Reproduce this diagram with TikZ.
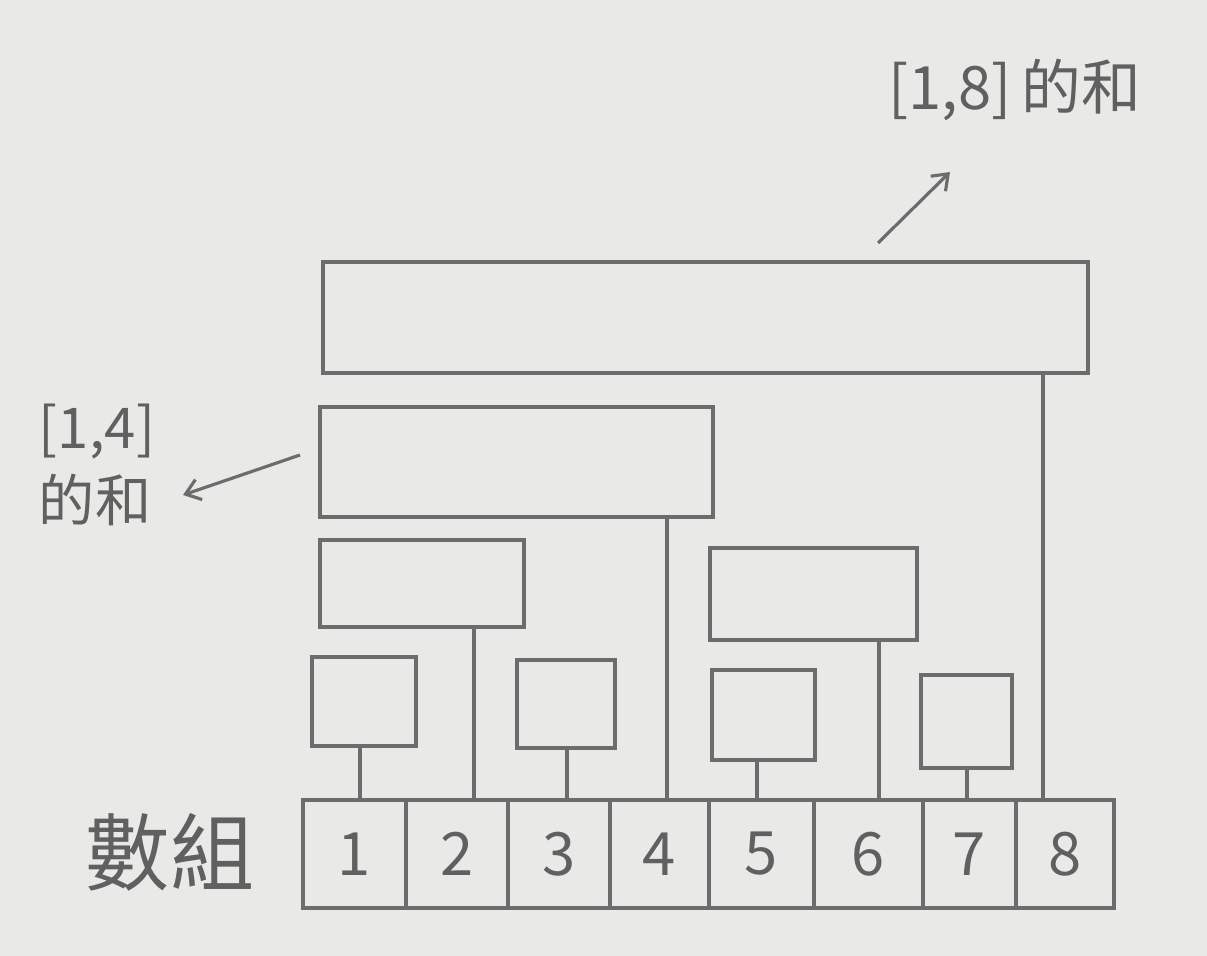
\documentclass[tikz,border=0pt]{standalone}
\usepackage{fontspec}
\newfontfamily\cjk{Noto Sans CJK TC}
\usetikzlibrary{fit,arrows.meta,backgrounds}
\definecolor{paper}{RGB}{233, 233, 231}
\definecolor{pencil}{RGB}{108, 108, 108}
\definecolor{lead}{RGB}{96, 96, 96}

\begin{document}
\begin{tikzpicture}[
        x=0.02cm, y=-0.02cm,
        treebox/.style={draw=pencil, line width=2pt, inner sep=0pt},
        cell/.style={draw=pencil, line width=2pt, inner sep=0pt, minimum height=2.16cm,
            text=lead, font=\cjk\fontsize{34}{40}\selectfont},
        stem/.style={draw=pencil, line width=2pt},
        pointer/.style={draw=pencil, line width=1.8pt, -{Straight Barb[length=8pt,width=12pt]}},
        label/.style={text=lead, font=\cjk\fontsize{#1}{#1}\selectfont},
        label/.default=32
    ]
    \useasboundingbox (0,0) rectangle (1207,956);
    \fill[paper] (0,0) rectangle (1207,956);

    % array cells
    \node[cell, minimum width=2.06cm] (c1) at (354.5,854) {1};
    \node[cell, minimum width=2.04cm] (c2) at (457,854) {2};
    \node[cell, minimum width=2.04cm] (c3) at (559,854) {3};
    \node[cell, minimum width=1.98cm] (c4) at (659.5,854) {4};
    \node[cell, minimum width=2.10cm] (c5) at (761.5,854) {5};
    \node[cell, minimum width=2.18cm] (c6) at (868.5,854) {6};
    \node[cell, minimum width=1.86cm] (c7) at (969.5,854) {7};
    \node[cell, minimum width=1.96cm] (c8) at (1065,854) {8};
    \node[label=48] (arr) at (170,852) {數組};

    % tree boxes
    \node[treebox, fit={(312,657) (416,746)}] (t1) {};
    \node[treebox, fit={(320,540) (524,627)}] (t2) {};
    \node[treebox, fit={(517,660) (615,748)}] (t3) {};
    \node[treebox, fit={(320,407) (713,517)}] (t4) {};
    \node[treebox, fit={(712,670) (815,760)}] (t5) {};
    \node[treebox, fit={(710,548) (917,640)}] (t6) {};
    \node[treebox, fit={(921,675) (1012,768)}] (t7) {};
    \node[treebox, fit={(323,262) (1088,373)}] (t8) {};

    % stem feet on the array
    \coordinate (f1) at (360,800);
    \coordinate (f2) at (474,800);
    \coordinate (f3) at (567,800);
    \coordinate (f4) at (667,800);
    \coordinate (f5) at (757,800);
    \coordinate (f6) at (879,800);
    \coordinate (f7) at (967,800);
    \coordinate (f8) at (1043,800);
    \foreach \i in {1,...,8}
        \draw[stem] (f\i |- t\i.south) -- (f\i);

    % labels
    \node[label=34] (s18) at (1015,90) {[1,8]\,的和};
    \coordinate (p18) at (878,243);
    \coordinate (q18) at (950,172);
    \draw[pointer] (p18) -- (q18);

    \node[label=32] (s14a) at (97,432) {[1,4]};
    \node[label=32] (s14b) at (95,500) {的和};
    \coordinate (p14) at (300,455);
    \coordinate (q14) at (183,495);
    \draw[pointer] (p14) -- (q14);
\end{tikzpicture}
\end{document}
